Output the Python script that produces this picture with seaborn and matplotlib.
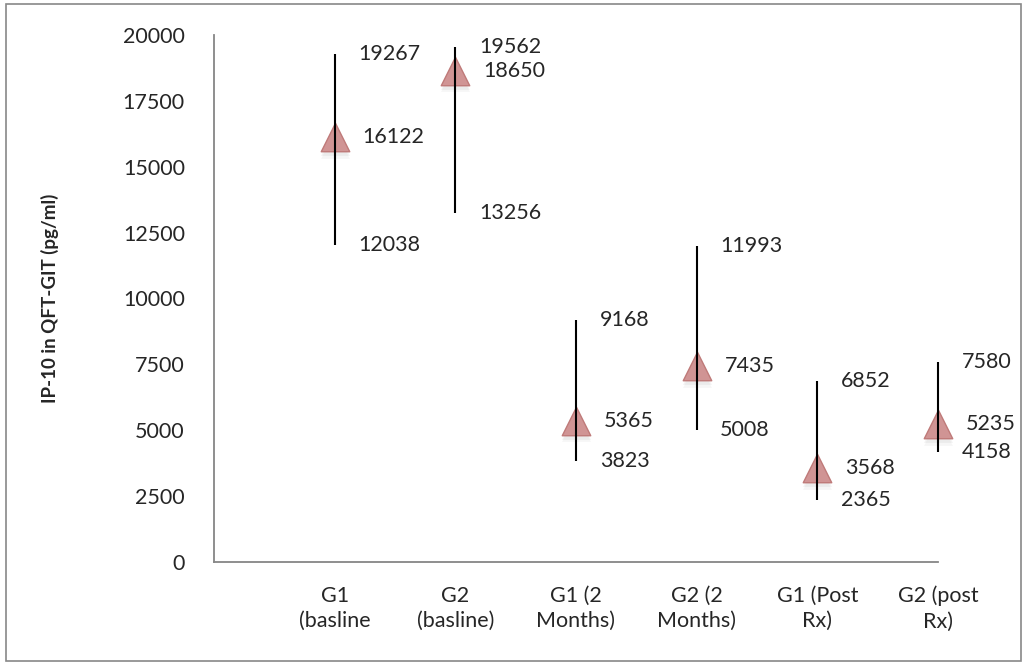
import matplotlib
matplotlib.use("Agg")
import matplotlib.pyplot as plt
import seaborn as sns
import pandas as pd
from matplotlib.patches import Rectangle

# IP-10 levels per group and time point
categories = ["G1\n(basline", "G2\n(basline)", "G1 (2\nMonths)",
              "G2 (2\nMonths)", "G1 (Post\nRx)", "G2 (post\nRx)"]
high = [19267, 19562, 9168, 11993, 6852, 7580]
low = [12038, 13256, 3823, 5008, 2365, 4158]
median = [16122, 18650, 5365, 7435, 3568, 5235]
y_ticks = [0, 2500, 5000, 7500, 10000, 12500, 15000, 17500, 20000]

sns.set_theme(style="white")
plt.rcParams["font.family"] = ["Lato", "DejaVu Sans"]

df = pd.DataFrame({"group": categories, "high": high, "low": low, "median": median})
df["pos"] = range(len(df))

fig = plt.figure(figsize=(10.26, 6.64), dpi=100)
ax = fig.add_axes([214 / 1026, 1 - 562 / 664, (938 - 214) / 1026, (562 - 35) / 664])

# soft shadow under the median markers
for dy, a in [(150, 0.10), (250, 0.07)]:
    sns.scatterplot(x=df["pos"], y=df["median"] - dy, marker="^", s=430,
                    color="#8a8a8a", alpha=a, linewidth=0, ax=ax,
                    zorder=1, legend=False, clip_on=False)
# median markers
sns.scatterplot(data=df, x="pos", y="median", marker="^", s=420,
                color="#d09494", edgecolor="#bf7a79", linewidth=1.0,
                ax=ax, zorder=2, legend=False, clip_on=False)

# high-low range lines
ax.vlines(df["pos"], df["low"], df["high"], color="black", linewidth=1.5,
          zorder=3, clip_on=False)

# value labels to the right of each point
for _, r in df.iterrows():
    ax.annotate(f"{r['high']}", (r["pos"], r["high"]), xytext=(17, 0),
                textcoords="offset points", va="center", ha="left",
                fontsize=15.5, annotation_clip=False)
    ax.annotate(f"{r['median']}", (r["pos"], r["median"]), xytext=(20, 0),
                textcoords="offset points", va="center", ha="left",
                fontsize=15.5, annotation_clip=False)
    ax.annotate(f"{r['low']}", (r["pos"], r["low"]), xytext=(17, 0),
                textcoords="offset points", va="center", ha="left",
                fontsize=15.5, annotation_clip=False)

ax.set_xlim(-1, 5)
ax.set_ylim(0, 20000)
ax.set_yticks(y_ticks)
ax.set_yticklabels([str(t) for t in y_ticks], fontsize=15.5)
ax.set_xticks(df["pos"])
ax.set_xticklabels(categories, fontsize=15.5, linespacing=1.35)
ax.tick_params(axis="y", length=0, pad=21)
ax.tick_params(axis="x", length=0, pad=17)
ax.set_xlabel("")
ax.set_ylabel("IP-10 in QFT-GIT (pg/ml)", fontsize=13.5, fontweight="bold", labelpad=46)

for side in ["top", "right"]:
    ax.spines[side].set_visible(False)
for side in ["left", "bottom"]:
    ax.spines[side].set_color("#868686")
    ax.spines[side].set_linewidth(1.3)

# outer chart border
fig.patches.append(Rectangle((6 / 1026, 3 / 664), 1015 / 1026, 657 / 664,
                             transform=fig.transFigure, fill=False,
                             edgecolor="#888888", linewidth=1.2))

fig.savefig("out.png", dpi=100)
